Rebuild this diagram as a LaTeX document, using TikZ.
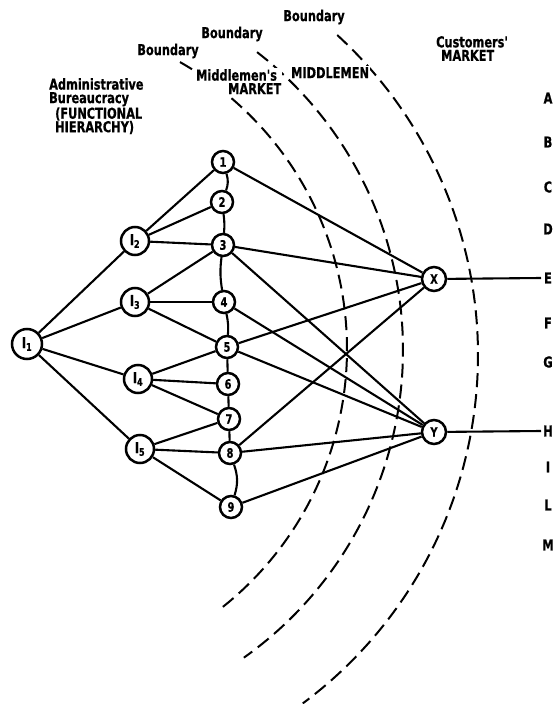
\documentclass[tikz,border=0pt]{standalone}
\usepackage{fontspec}
\newfontfamily\lab{DejaVu Sans Condensed Bold}[FakeStretch=0.84, FakeBold=0.6]
\begin{document}
\begin{tikzpicture}[x=1pt,y=-1pt,
  link/.style={line width=2.1pt},
  bound/.style={line width=2pt, dash pattern=on 14pt off 7pt},
  inode/.style={circle, draw, line width=2.5pt, fill=white, minimum size=28pt, inner sep=0pt, font=\lab\fontsize{15}{15}\selectfont},
  nnode/.style={circle, draw, line width=2.5pt, fill=white, minimum size=22pt, inner sep=0pt, font=\lab\fontsize{13}{13}\selectfont},
  mnode/.style={circle, draw, line width=2.5pt, fill=white, minimum size=24pt, inner sep=0pt, font=\lab\fontsize{13}{13}\selectfont},
  txt/.style={font=\lab\fontsize{15}{13.5}\selectfont, inner sep=1pt},
  row/.style={font=\lab\fontsize{15}{15}\selectfont, inner sep=0pt}]
\useasboundingbox (0,0) rectangle (556,704);

% market boundaries
\draw[bound] (17,349) ++(-60.4:330) arc[start angle=-60.4, end angle=51.4, radius=330];
\draw[bound] (26,350) ++(-52.2:377) arc[start angle=-52.2, end angle=54.7, radius=377];
\draw[bound] (44,355) ++(-47.5:434) arc[start angle=-47.5, end angle=53.4, radius=434];

% headings
\node[txt, fill=white] (b1) at (168,51) {Boundary};
\node[txt, fill=white] (b2) at (232,34) {Boundary};
\node[txt, fill=white] (b3) at (314,17) {Boundary};
\node[txt, fill=white, anchor=north west, align=left] (mm) at (195,68) {Middlemen's\\\hspace*{32pt}MARKET};
\node[txt, fill=white, anchor=north west] (mid) at (290,66) {MIDDLEMEN};
\node[txt, anchor=north west, align=left] (cm) at (435,35) {Customers'\\\hspace*{5pt}MARKET};
\node[txt, anchor=north west, align=left] (adm) at (48,77) {Administrative\\Bureaucracy\\\hspace*{6pt}(FUNCTIONAL\\\hspace*{6pt}HIERARCHY)};

% nodes
\node[inode, minimum size=30pt] (i1) at (27,344) {I\textsubscript{1}};
\node[inode] (i2) at (135,241) {I\textsubscript{2}};
\node[inode] (i3) at (135,302) {I\textsubscript{3}};
\node[inode] (i4) at (138,379) {I\textsubscript{4}};
\node[inode] (i5) at (140,449) {I\textsubscript{5}};

\node[nnode] (n1) at (223,162) {1};
\node[nnode] (n2) at (222,202) {2};
\node[nnode] (n3) at (223,245) {3};
\node[nnode] (n4) at (224,302) {4};
\node[nnode] (n5) at (227,347) {5};
\node[nnode] (n6) at (228,384) {6};
\node[nnode] (n7) at (229,419) {7};
\node[nnode] (n8) at (230,453) {8};
\node[nnode] (n9) at (231,507) {9};

\node[mnode] (x) at (434,279) {X};
\node[mnode] (y) at (434,432) {Y};

\coordinate (xe) at (541,278);
\coordinate (ye) at (541,431);

% row letters
\foreach \l/\yy in {A/98,B/142,C/187,D/229,E/278,F/323,G/362,H/431,I/467,L/505,M/545}
  \node[row] (r\l) at (548,\yy) {\l};

% connections
\draw[link] (i1) -- (i2);
\draw[link] (i1) -- (i3);
\draw[link] (i1) -- (i4);
\draw[link] (i1) -- (i5);
\draw[link] (i2) -- (n1);
\draw[link] (i2) -- (n2);
\draw[link] (i2) -- (n3);
\draw[link] (i3) -- (n3);
\draw[link] (i3) -- (n4);
\draw[link] (i3) -- (n5);
\draw[link] (i4) -- (n5);
\draw[link] (i4) -- (n6);
\draw[link] (i4) -- (n7);
\draw[link] (i5) -- (n7);
\draw[link] (i5) -- (n8);
\draw[link] (i5) -- (n9);
\draw[link] (n1) to[bend left=18] (n2);
\draw[link] (n2) to[bend left=6] (n3);
\draw[link] (n3) to[bend right=8] (n4);
\draw[link] (n4) to[bend left=8] (n5);
\draw[link] (n5) -- (n6);
\draw[link] (n6) -- (n7);
\draw[link] (n7) -- (n8);
\draw[link] (n8) to[bend left=18] (n9);
\draw[link] (n1) -- (x);
\draw[link] (n3) -- (x);
\draw[link] (n5) -- (x);
\draw[link] (n8) -- (x);
\draw[link] (n3) -- (y);
\draw[link] (n4) -- (y);
\draw[link] (n5) -- (y);
\draw[link] (n8) -- (y);
\draw[link] (n9) -- (y);
\draw[link] (x) -- (xe);
\draw[link] (y) -- (ye);
\end{tikzpicture}
\end{document}
